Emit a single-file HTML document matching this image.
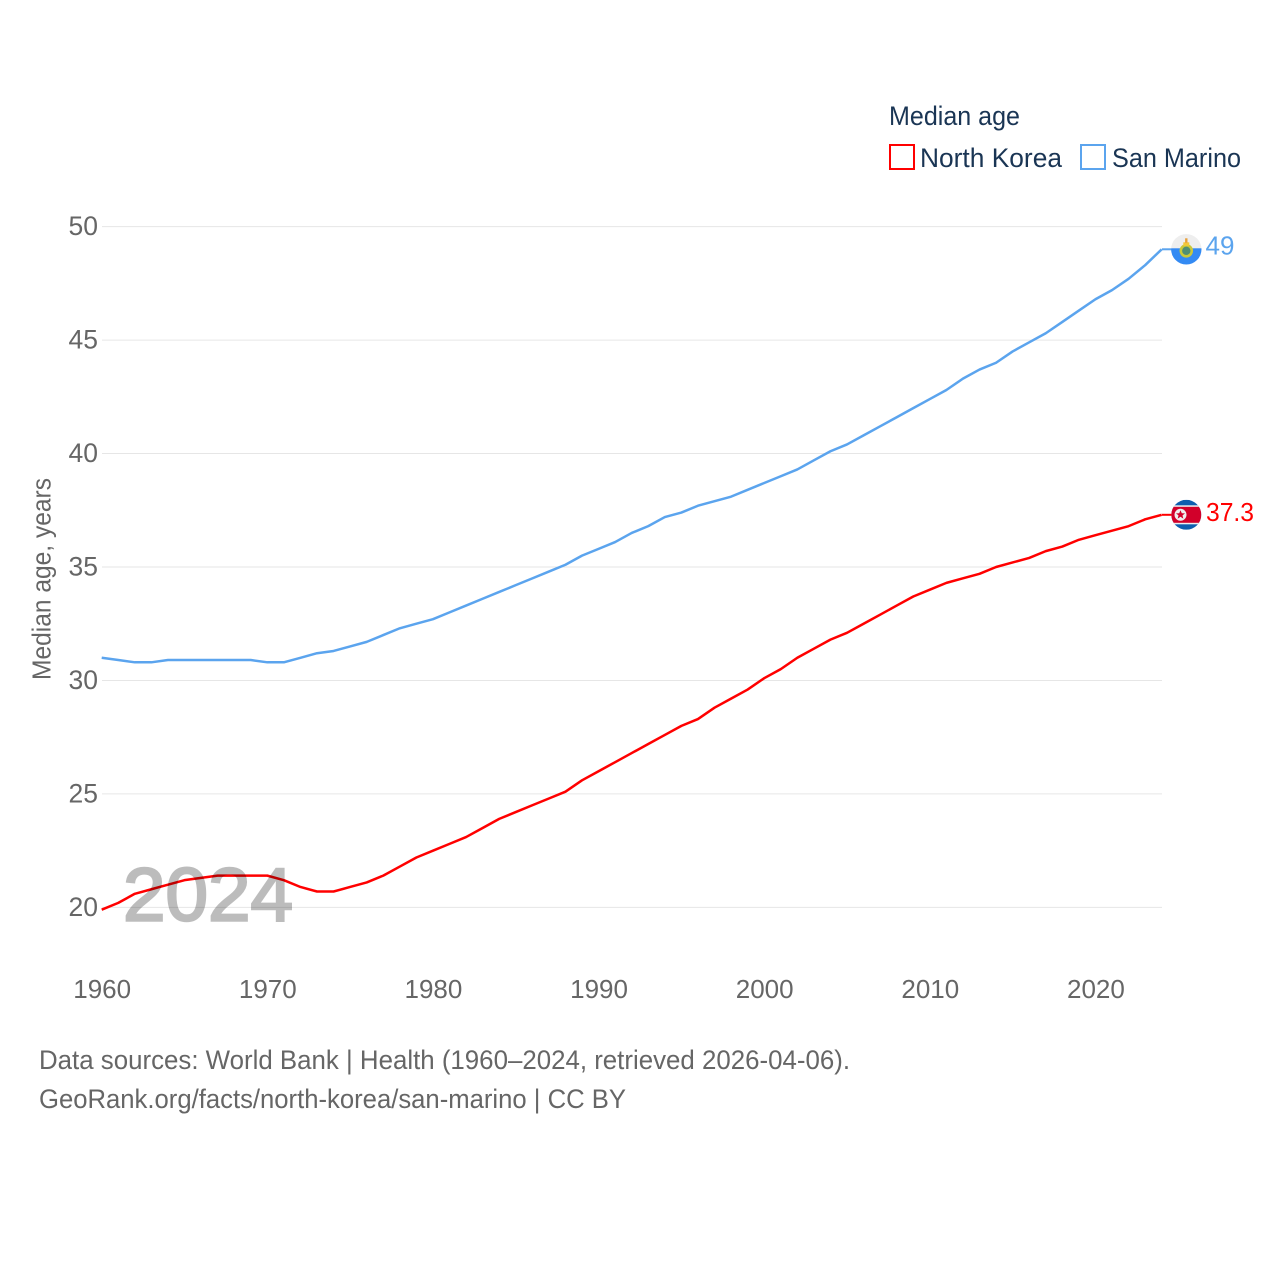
<!DOCTYPE html>
<html lang="en">
<head>
<meta charset="utf-8">
<title>Median age: North Korea and San Marino</title>
<style>
html,body{margin:0;padding:0;background:#fff;width:1280px;height:1280px;overflow:hidden}
svg{display:block;font-family:"Liberation Sans",sans-serif}
</style>
</head>
<body>
<svg id="chart" width="1280" height="1280" viewBox="0 0 1280 1280" xmlns="http://www.w3.org/2000/svg">
  <defs>
    <clipPath id="flag-clip-nk"><circle cx="0" cy="0" r="15"></circle></clipPath>
    <clipPath id="flag-clip-sm"><circle cx="0" cy="0" r="15.2"></circle></clipPath>
  </defs>
  <rect width="1280" height="1280" fill="#ffffff"></rect>
  <text x="889" y="125" font-size="26.5" fill="#1a3554" textLength="131" lengthAdjust="spacingAndGlyphs">Median age</text>
  <g>
    <rect x="890" y="145" width="24" height="24" fill="#ffffff" stroke="#ff0000" stroke-width="2"></rect>
    <text x="920" y="167" font-size="26.5" fill="#1a3554" textLength="142" lengthAdjust="spacingAndGlyphs">North Korea</text>
  </g>
  <g>
    <rect x="1081" y="145" width="24" height="24" fill="#ffffff" stroke="#5ba4ee" stroke-width="2"></rect>
    <text x="1112" y="167" font-size="26.5" fill="#1a3554" textLength="129" lengthAdjust="spacingAndGlyphs">San Marino</text>
  </g>
  <g id="grid"></g>
  <g id="y-ticks"></g>
  <g id="x-ticks"></g>
  <text transform="translate(50.5 680) rotate(-90)" font-size="25.5" fill="#666666" textLength="202" lengthAdjust="spacingAndGlyphs">Median age, years</text>
  <g id="series"></g>
  <text x="123" y="920.5" font-size="75" font-weight="400" fill="#000000" stroke="#000000" stroke-width="2.4" opacity="0.26" textLength="170" lengthAdjust="spacingAndGlyphs">2024</text>
  <g id="end-markers"></g>
  <text x="39" y="1069" font-size="26.5" fill="#666666" textLength="811" lengthAdjust="spacingAndGlyphs">Data sources: World Bank | Health (1960–2024, retrieved 2026-04-06).</text>
  <text x="39" y="1108" font-size="26.5" fill="#666666" textLength="587" lengthAdjust="spacingAndGlyphs">GeoRank.org/facts/north-korea/san-marino | CC BY</text>
</svg>
<script>
const years = [1960,1961,1962,1963,1964,1965,1966,1967,1968,1969,1970,1971,1972,1973,1974,1975,1976,1977,1978,1979,1980,1981,1982,1983,1984,1985,1986,1987,1988,1989,1990,1991,1992,1993,1994,1995,1996,1997,1998,1999,2000,2001,2002,2003,2004,2005,2006,2007,2008,2009,2010,2011,2012,2013,2014,2015,2016,2017,2018,2019,2020,2021,2022,2023,2024];
const northKorea = [19.9,20.2,20.6,20.8,21.0,21.2,21.3,21.4,21.4,21.4,21.4,21.2,20.9,20.7,20.7,20.9,21.1,21.4,21.8,22.2,22.5,22.8,23.1,23.5,23.9,24.2,24.5,24.8,25.1,25.6,26.0,26.4,26.8,27.2,27.6,28.0,28.3,28.8,29.2,29.6,30.1,30.5,31.0,31.4,31.8,32.1,32.5,32.9,33.3,33.7,34.0,34.3,34.5,34.7,35.0,35.2,35.4,35.7,35.9,36.2,36.4,36.6,36.8,37.1,37.3];
const sanMarino = [31.0,30.9,30.8,30.8,30.9,30.9,30.9,30.9,30.9,30.9,30.8,30.8,31.0,31.2,31.3,31.5,31.7,32.0,32.3,32.5,32.7,33.0,33.3,33.6,33.9,34.2,34.5,34.8,35.1,35.5,35.8,36.1,36.5,36.8,37.2,37.4,37.7,37.9,38.1,38.4,38.7,39.0,39.3,39.7,40.1,40.4,40.8,41.2,41.6,42.0,42.4,42.8,43.3,43.7,44.0,44.5,44.9,45.3,45.8,46.3,46.8,47.2,47.7,48.3,49.0];
const yTickValues = [20,25,30,35,40,45,50];
const xTickValues = [1960,1970,1980,1990,2000,2010,2020];

const NS = 'http://www.w3.org/2000/svg';
function xScale(year){ return 101.7 + (year - 1960) * (1161.7 - 101.7) / (2024 - 1960); }
function yScale(v){ return 907.4 - (v - 20) * (907.4 - 226.6) / (50 - 20); }
function make(tag, attrs, parent){
  const el = document.createElementNS(NS, tag);
  for (const k in attrs) el.setAttribute(k, attrs[k]);
  parent.appendChild(el);
  return el;
}
const grid = document.getElementById('grid');
const yTicks = document.getElementById('y-ticks');
const xTicks = document.getElementById('x-ticks');
const seriesGroup = document.getElementById('series');
const markers = document.getElementById('end-markers');

yTickValues.forEach(function(v){
  const line = make('line', {x1:102, x2:1162, y1:yScale(v), y2:yScale(v), stroke:'#e6e6e6', 'stroke-width':1}, grid);
  
  
  const label = make('text', {x:98, y:yScale(v)+8.4, 'text-anchor':'end', 'font-size':26.5, fill:'#666666'}, yTicks);
  
  
  label.textContent = v;
});
xTickValues.forEach(function(y){
  const label = make('text', {x:xScale(y)+0.5, y:998, 'text-anchor':'middle', 'font-size':26, fill:'#666666'}, xTicks);
  
  
  label.textContent = y;
});
function pathFor(values){
  return values.map(function(v,i){ return (i ? 'L' : 'M') + xScale(years[i]).toFixed(2) + ' ' + yScale(v).toFixed(2); }).join(' ');
}
const nkLine = make('path', {d:pathFor(northKorea), fill:'none', stroke:'#ff0000', 'stroke-width':2.5, 'stroke-linejoin':'round'}, seriesGroup);


const smLine = make('path', {d:pathFor(sanMarino), fill:'none', stroke:'#5ba4ee', 'stroke-width':2.5, 'stroke-linejoin':'round'}, seriesGroup);



function endY(values){ return yScale(values[values.length - 1]); }

// North Korea end marker
const nkY = endY(northKorea);
const nkConn = make('line', {x1:1162, x2:1172, y1:nkY, y2:nkY, stroke:'#ff0000', 'stroke-width':2}, markers);


const nkFlag = make('g', {transform:'translate(1186.3 '+nkY+')', 'clip-path':'url(#flag-clip-nk)'}, markers);


make('rect', {x:-15, y:-15, width:30, height:30, fill:'#0d5eaf'}, nkFlag);
make('rect', {x:-15, y:-9.5, width:30, height:19, fill:'#eeeeee'}, nkFlag);
make('rect', {x:-15, y:-8, width:30, height:16, fill:'#d2002a'}, nkFlag);
make('circle', {cx:-5.8, cy:0, r:6, fill:'#eeeeee'}, nkFlag);
make('polygon', {points:'-5.8,-4.6 -4.5,-1.5 -1.3,-1.4 -3.8,0.6 -3,3.8 -5.8,2 -8.6,3.8 -7.8,0.6 -10.3,-1.4 -7.1,-1.5', fill:'#d2002a'}, nkFlag);
const nkValue = make('text', {x:1206, y:nkY+6, 'font-size':25.5, fill:'#ff0000', textLength:48, lengthAdjust:'spacingAndGlyphs'}, markers);


nkValue.textContent = northKorea[northKorea.length - 1];

// San Marino end marker
const smY = endY(sanMarino);
const smConn = make('line', {x1:1162, x2:1172, y1:smY, y2:smY, stroke:'#5ba4ee', 'stroke-width':2}, markers);


const smFlag = make('g', {transform:'translate(1186.3 '+smY+')', 'clip-path':'url(#flag-clip-sm)'}, markers);


make('rect', {x:-16, y:-16, width:32, height:16, fill:'#eeeeee'}, smFlag);
make('rect', {x:-16, y:-1, width:32, height:17, fill:'#338af3'}, smFlag);
make('circle', {cx:0, cy:1.5, r:5.5, fill:'#4f8f74', stroke:'#c9c83a', 'stroke-width':2.6}, smFlag);
make('rect', {x:-3, y:-7, width:6, height:3.5, fill:'#f2c83a'}, smFlag);
make('rect', {x:-1.2, y:-11, width:2.4, height:4.5, fill:'#e8a03c'}, smFlag);
const smValue = make('text', {x:1205.5, y:smY+5, 'font-size':26, fill:'#5ba4ee'}, markers);


smValue.textContent = sanMarino[sanMarino.length - 1];
</script>
</body>
</html>
